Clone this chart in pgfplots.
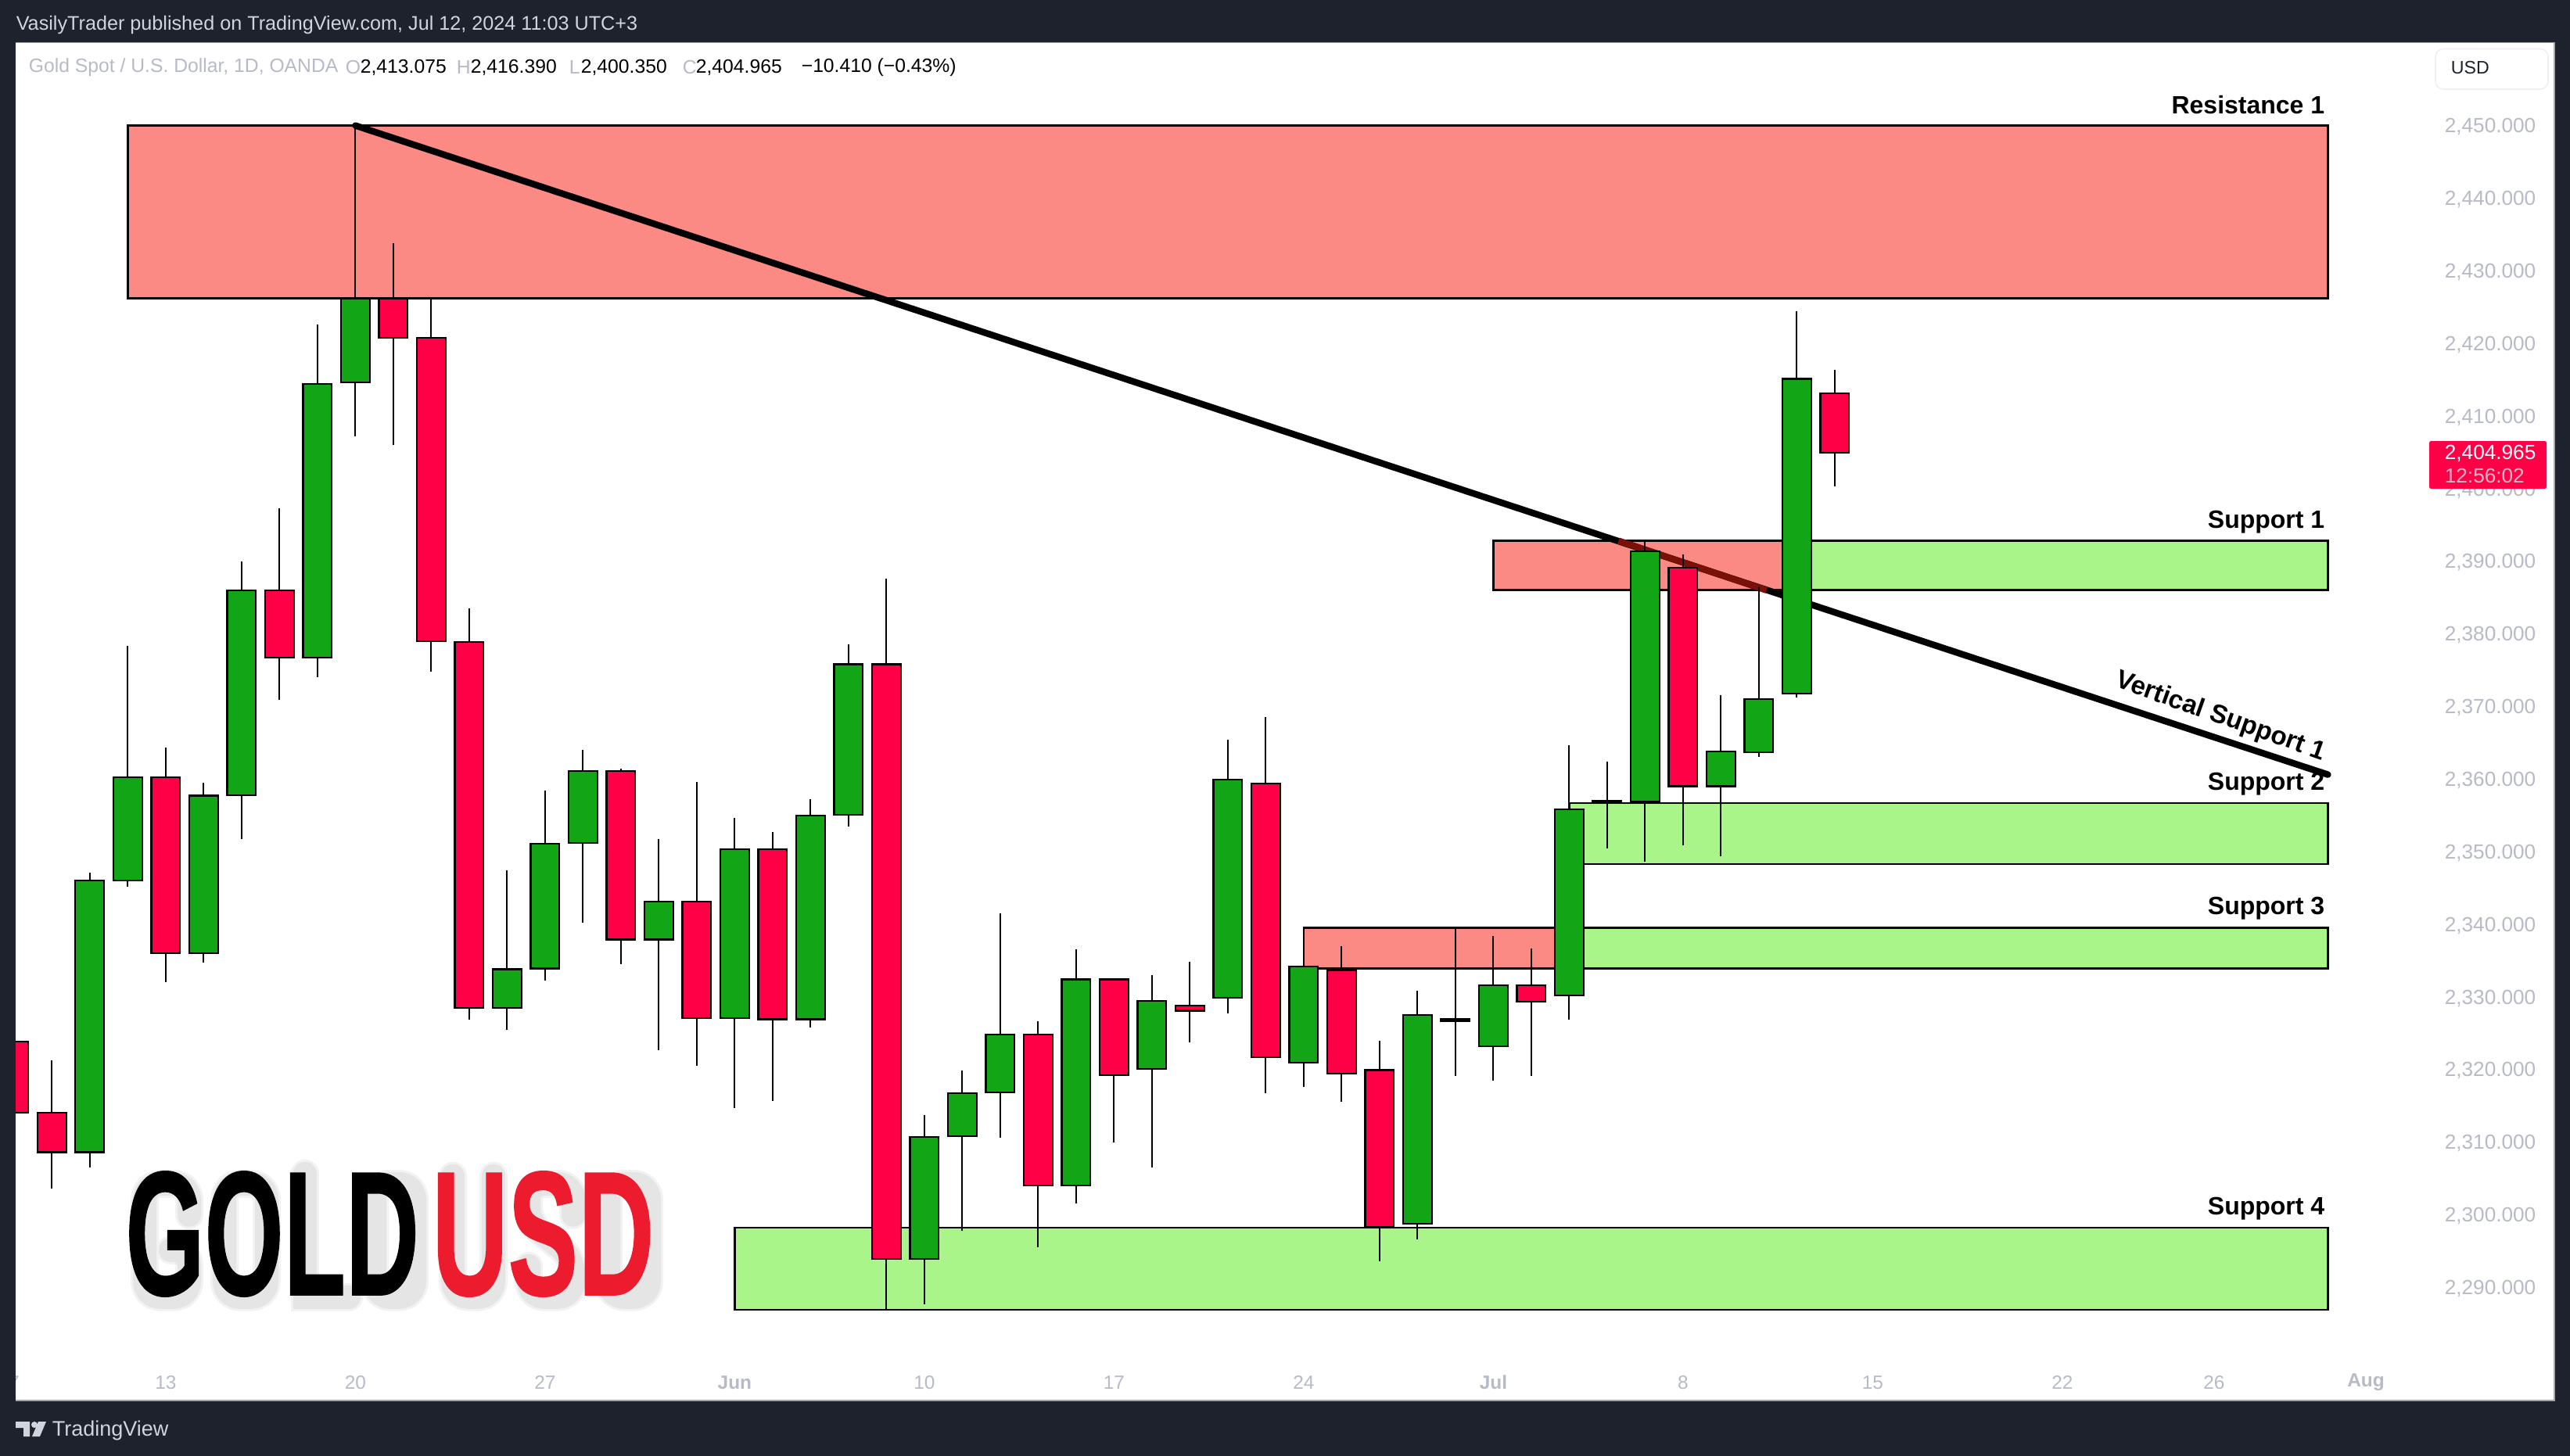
\documentclass[border=0pt]{standalone}
\usepackage{fontspec}
\setmainfont{Liberation Sans}
\usepackage{pgfplots}
\pgfplotsset{compat=1.18}
\usetikzlibrary{calc}
\definecolor{bgd}{HTML}{1E222D}
\definecolor{gc}{HTML}{12A616}
\definecolor{rc}{HTML}{FF0047}
\definecolor{rbox}{HTML}{FC8A84}
\definecolor{gbox}{HTML}{A9F58A}
\definecolor{tick}{HTML}{B8BBC5}
\definecolor{topt}{HTML}{D1D4DC}
\definecolor{usdred}{HTML}{EC1C2E}
\definecolor{maroon}{HTML}{7A1008}
\newfontfamily\gfont[FakeBold=0.9]{Liberation Sans Bold}
\newcommand{\candle}[6]{%
  \pgfmathsetmacro\xl{#2-0.38}\pgfmathsetmacro\xr{#2+0.38}%
  \addplot[black,line width=0.5pt,forget plot] coordinates {(#2,#5)(#2,#4)};%
  \addplot[draw=black,line width=0.55pt,fill=#1,forget plot] coordinates {(\xl,#3)(\xr,#3)(\xr,#6)(\xl,#6)} -- cycle;%
}
\newcommand{\zone}[5]{% colour x0 x1 ybot ytop
  \addplot[draw=black,line width=0.65pt,fill=#1,forget plot] coordinates {(#2,#4)(#3,#4)(#3,#5)(#2,#5)} -- cycle;%
}
\newcommand{\legendfont}{\fontsize{6.18pt}{8pt}\selectfont}
\newcommand{\gsize}{\gfont\fontsize{56.5pt}{58pt}\selectfont}
\newcommand{\shadowstroke}[1]{%
  \begin{scope}[xshift=1.5pt,yshift=-2.2pt,draw=black,line width=#1,opacity=0.05,rounded corners=5pt,line cap=round]
  % G
  \draw (236,1545) -- (236,1505) -- (179,1505) -- (179,1650) -- (236,1650) -- (236,1590) -- (212,1590);
  % O
  \draw (281,1505) -- (335,1505) -- (335,1650) -- (281,1650) -- cycle;
  % L
  \draw[sharp corners] (384,1492) -- (384,1650) -- (440,1650);
  % D
  \draw (473,1505) -- (524,1505) -- (524,1650) -- (473,1650) -- cycle;
  % U
  \draw (573,1495) -- (573,1650) -- (625,1650) -- (625,1495);
  % S
  \draw (727,1545) -- (727,1505) -- (670,1505) -- (670,1555) -- (727,1600) -- (727,1650) -- (670,1650) -- (670,1610);
  % D
  \draw (772,1505) -- (824,1505) -- (824,1650) -- (772,1650) -- cycle;
  \end{scope}}
\begin{document}
\begin{tikzpicture}
\useasboundingbox (0,0) rectangle (821.5pt,-465.5pt);
\fill[bgd] (0,0) rectangle (821.5pt,-465.5pt);
\fill[white] (5pt,-13.625pt) rectangle (816.5pt,-447.75pt);
\begin{axis}[
  at={(5pt,-447.75pt)},anchor=south west,
  scale only axis,width=811.5pt,height=434.125pt,
  xmin=-3.955,xmax=62.97,ymin=2274.4,ymax=2461.42,
  axis line style={draw=none},
  major tick length=0pt,
  xtick={0,5,10,15,20,25,30,35,40,45,50,54,58},
  xticklabels={13,20,27,\bfseries Jun,10,17,24,\bfseries Jul,8,15,22,26,\bfseries Aug},
  ytick={2290,2300,2310,2320,2330,2340,2350,2360,2370,2380,2390,2400,2410,2420,2430,2440,2450},
  yticklabel pos=right,
  xticklabel style={font=\fontsize{6.1pt}{7pt}\selectfont,text=tick,anchor=center,yshift=5.8pt},
  yticklabel style={font=\fontsize{6.55pt}{8pt}\selectfont,text=tick,anchor=center,xshift=-20.5pt,yshift=-0.45pt,
    /pgf/number format/.cd,fixed,fixed zerofill,precision=3,1000 sep={,},assume math mode=true},
  scaled y ticks=false,
  clip=true,
]
% zones
\zone{rbox}{-1}{57}{2426.2}{2450}
\zone{rbox}{35}{43}{2386}{2392.8}
\zone{gbox}{43}{57}{2386}{2392.8}
\zone{gbox}{37}{57}{2348.3}{2356.7}
\zone{rbox}{30}{37}{2333.9}{2339.5}
\zone{gbox}{37}{57}{2333.9}{2339.5}
\zone{gbox}{15}{57}{2286.9}{2298.2}
% trend line
\addplot[black,line width=2.1pt,line cap=round,forget plot] coordinates {(5,2450)(57,2360.6)};
\addplot[maroon,line width=2.1pt,forget plot] coordinates {(38.3,2392.8)(42.2,2386.0)};
% candles: colour, index, open, high, low, close
\candle{rc}{-4}{2323.8}{2325}{2312}{2314.0}
\candle{rc}{-3}{2314.0}{2321.3}{2303.6}{2308.6}
\candle{gc}{-2}{2308.6}{2347.1}{2306.5}{2346.0}
\candle{gc}{-1}{2346.0}{2378.3}{2345.2}{2360.2}
\candle{rc}{0}{2360.2}{2364.3}{2332.0}{2336.0}
\candle{gc}{1}{2336.0}{2359.5}{2334.7}{2357.7}
\candle{gc}{2}{2357.8}{2390.0}{2351.7}{2386.0}
\candle{rc}{3}{2386.0}{2397.3}{2370.9}{2376.7}
\candle{gc}{4}{2376.7}{2422.6}{2374.0}{2414.4}
\candle{gc}{5}{2414.6}{2450.0}{2407.2}{2426.2}
\candle{rc}{6}{2426.2}{2433.8}{2406.0}{2420.8}
\candle{rc}{7}{2420.8}{2426.4}{2374.8}{2379.0}
\candle{rc}{8}{2378.9}{2383.5}{2326.9}{2328.5}
\candle{gc}{9}{2328.5}{2347.4}{2325.4}{2333.8}
\candle{gc}{10}{2333.9}{2358.4}{2332.2}{2351.1}
\candle{gc}{11}{2351.2}{2364.0}{2340.2}{2361.1}
\candle{rc}{12}{2361.1}{2361.4}{2334.5}{2337.9}
\candle{gc}{13}{2337.9}{2351.7}{2322.6}{2343.1}
\candle{rc}{14}{2343.1}{2359.6}{2320.5}{2327.1}
\candle{gc}{15}{2327.1}{2354.6}{2314.7}{2350.3}
\candle{rc}{16}{2350.3}{2352.7}{2315.6}{2326.9}
\candle{gc}{17}{2326.9}{2357.2}{2325.8}{2355.0}
\candle{gc}{18}{2355.1}{2378.5}{2353.4}{2375.8}
\candle{rc}{19}{2375.8}{2387.6}{2286.8}{2293.9}
\candle{gc}{20}{2293.9}{2313.7}{2287.7}{2310.7}
\candle{gc}{21}{2310.8}{2319.9}{2297.8}{2316.7}
\candle{gc}{22}{2316.8}{2341.5}{2310.6}{2324.8}
\candle{rc}{23}{2324.8}{2326.6}{2295.5}{2304.0}
\candle{gc}{24}{2304.0}{2336.5}{2301.5}{2332.4}
\candle{rc}{25}{2332.4}{2332.6}{2309.9}{2319.2}
\candle{gc}{26}{2320.1}{2333.0}{2306.5}{2329.4}
\candle{rc}{27}{2328.8}{2334.8}{2323.7}{2328.1}
\candle{gc}{28}{2329.9}{2365.4}{2327.7}{2359.9}
\candle{rc}{29}{2359.4}{2368.5}{2316.7}{2321.7}
\candle{gc}{30}{2320.9}{2334.3}{2317.6}{2334.2}
\candle{rc}{31}{2333.7}{2337.0}{2315.5}{2319.4}
\candle{rc}{32}{2319.9}{2323.9}{2293.6}{2298.3}
\candle{gc}{33}{2298.7}{2330.8}{2296.6}{2327.5}
\candle{rc}{34}{2326.9}{2339.6}{2319.1}{2326.6}
\candle{gc}{35}{2323.2}{2338.4}{2318.5}{2331.6}
\candle{rc}{36}{2331.6}{2336.7}{2319.1}{2329.3}
\candle{gc}{37}{2330.2}{2364.7}{2326.8}{2355.8}
\candle{gc}{38}{2356.8}{2362.4}{2350.4}{2357.0}
\candle{gc}{39}{2356.9}{2392.8}{2348.6}{2391.4}
\candle{rc}{40}{2389.1}{2390.9}{2350.9}{2359.0}
\candle{gc}{41}{2359.0}{2371.5}{2349.4}{2363.8}
\candle{gc}{42}{2363.7}{2386.5}{2363.0}{2371.0}
\candle{gc}{43}{2371.8}{2424.4}{2371.2}{2415.1}
\candle{rc}{44}{2413.075}{2416.39}{2400.35}{2404.965}
\end{axis}
\begin{scope}[x=0.25pt,y=-0.25pt]
% clipped tick label and left strip
\node[font=\fontsize{6.1pt}{7pt}\selectfont,text=tick] at (17.8,1768) {7};
\fill[bgd] (0,54) rectangle (20,1800);
\draw[gray!70,line width=0.4pt] (20,54.5) -- (3266,54.5) -- (3266,1791) -- (20,1791);
% top bar
\node[anchor=west,inner sep=0,font=\fontsize{6.3pt}{8pt}\selectfont,text=topt] at (20,32) {VasilyTrader published on TradingView.com, Jul 12, 2024 11:03 UTC+3};
% legend
\node[anchor=west,inner sep=0,font=\legendfont,text=tick] at (36,86) {Gold Spot / U.S. Dollar, 1D, OANDA};
\node[anchor=west,inner sep=0,font=\legendfont,text=tick] at (441,86) {O};
\node[anchor=west,inner sep=0,font=\legendfont,text=black] at (460,86) {2,413.075};
\node[anchor=west,inner sep=0,font=\legendfont,text=tick] at (583,86) {H};
\node[anchor=west,inner sep=0,font=\legendfont,text=black] at (601,86) {2,416.390};
\node[anchor=west,inner sep=0,font=\legendfont,text=tick] at (727,86) {L};
\node[anchor=west,inner sep=0,font=\legendfont,text=black] at (742,86) {2,400.350};
\node[anchor=west,inner sep=0,font=\legendfont,text=tick] at (872,86) {C};
\node[anchor=west,inner sep=0,font=\legendfont,text=black] at (889,86) {2,404.965};
\node[anchor=west,inner sep=0,font=\legendfont,text=black] at (1024,86) {−10.410 (−0.43\%)};
% USD button
\draw[gray!12,line width=0.4pt,fill=white,rounded corners=2.5pt] (3114,62.5) rectangle (3258,114);
\node[anchor=west,inner sep=0,font=\fontsize{5.8pt}{7pt}\selectfont,text=bgd] at (3133,87) {USD};
% price tag
\fill[rc,rounded corners=0.6pt] (3106,564) rectangle (3256,625);
\node[anchor=west,inner sep=0,font=\fontsize{6.55pt}{8pt}\selectfont,text=white] at (3125,580) {2,404.965};
\node[anchor=west,inner sep=0,font=\fontsize{6.55pt}{8pt}\selectfont,text=white!70!rc] at (3125,608) {12:56:02};
% annotations
\foreach \t/\yy in {Resistance 1/134,Support 1/668,Support 2/1003,Support 3/1162,Support 4/1546}{
  \node[anchor=east,inner sep=0,font=\fontsize{8pt}{10pt}\selectfont\bfseries] at (2973,\yy) {\t};
}
\node[rotate=-19.5,inner sep=0,font=\fontsize{8.3pt}{10pt}\selectfont\bfseries] at (2839,917) {Vertical Support 1};
% GOLD USD wordmark: soft shadow strokes, then the letters
\shadowstroke{9pt}
\shadowstroke{7.5pt}
\node[anchor=west,inner sep=0,xscale=0.575,text=black,font=\gsize] at (160,1578) {GOLD};
\node[anchor=west,inner sep=0,xscale=0.595,text=usdred,font=\gsize] at (552,1578) {USD};
% footer
\fill[topt] (20,1818) -- (38,1818) -- (38,1837) -- (30,1837) -- (30,1826) -- (20,1826) -- cycle;
\fill[topt] (44,1822) circle[radius=4];
\fill[topt] (49,1818) -- (59,1818) -- (51,1837) -- (41,1837) -- cycle;
\node[anchor=west,inner sep=0,font=\fontsize{6.75pt}{8pt}\selectfont,text=topt] at (66,1829) {TradingView};
\end{scope}
\end{tikzpicture}
\end{document}
